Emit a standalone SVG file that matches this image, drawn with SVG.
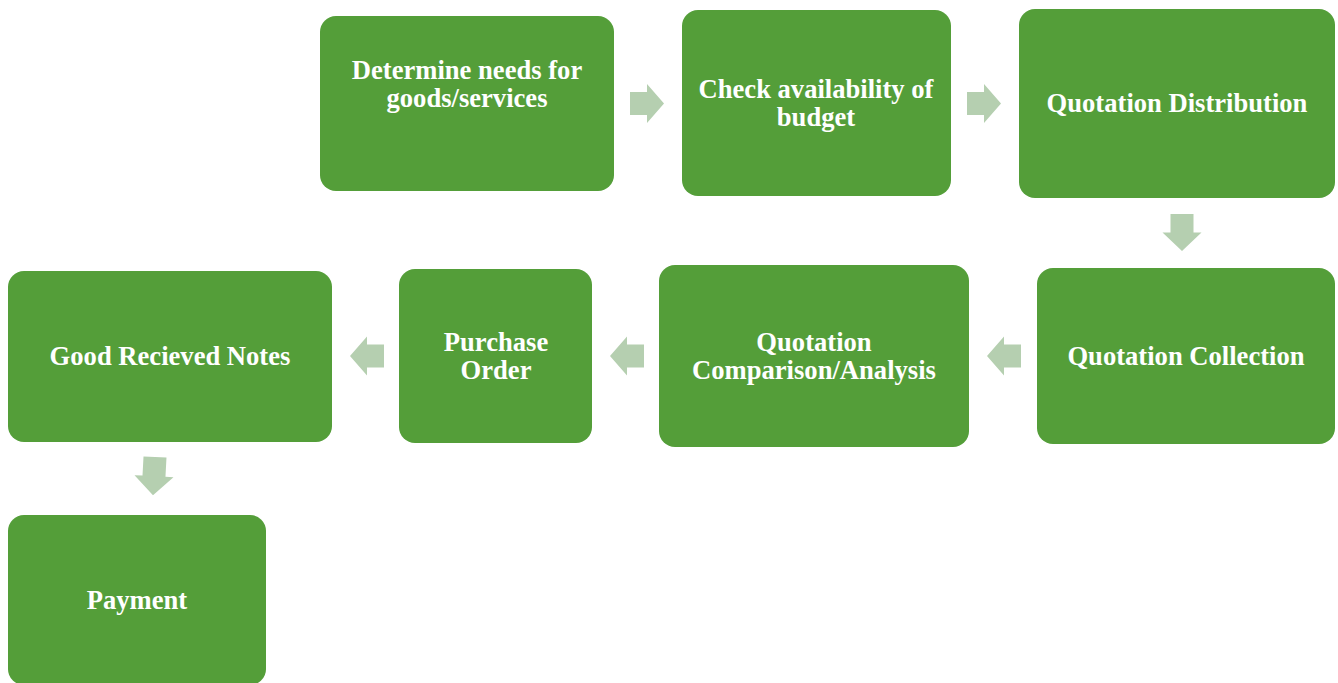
<svg xmlns="http://www.w3.org/2000/svg" width="1338" height="683" viewBox="0 0 1338 683">
<style>
.box{fill:#549E39;}
.t{font-family:"Liberation Serif","Times New Roman",serif;font-weight:bold;font-size:26.6px;fill:#ffffff;text-anchor:middle;}
.arr{fill:#B5CFB0;}
</style>
<defs>
<path id="ar" d="M0,-11.5 H17 V-19.5 L34,0 L17,19.5 V11.5 H0 Z"/>
</defs>
<rect width="1338" height="683" fill="#ffffff"/>
<g id="connectors">
<use href="#ar" class="arr" transform="translate(630,103.5)"/>
<use href="#ar" class="arr" transform="translate(967,103.5)"/>
<use href="#ar" class="arr" transform="translate(1182,214) rotate(90) scale(1.09,1)"/>
<use href="#ar" class="arr" transform="translate(1021,356) rotate(180)"/>
<use href="#ar" class="arr" transform="translate(644,356) rotate(180)"/>
<use href="#ar" class="arr" transform="translate(384,356) rotate(180)"/>
<use href="#ar" class="arr" transform="translate(155,457) rotate(93) scale(1.13,1)"/>
</g>
<g id="n1"><rect class="box" x="320" y="16" width="294" height="175" rx="16"/><text class="t" x="467" y="79">Determine needs for</text><text class="t" x="467" y="107">goods/services</text></g>
<g id="n2"><rect class="box" x="682" y="10" width="269" height="186" rx="16"/><text class="t" x="816" y="98">Check availability of</text><text class="t" x="816" y="126">budget</text></g>
<g id="n3"><rect class="box" x="1019" y="9" width="316" height="189" rx="16"/><text class="t" x="1177" y="112">Quotation Distribution</text></g>
<g id="n4"><rect class="box" x="1037" y="268" width="298" height="176" rx="16"/><text class="t" x="1186" y="365">Quotation Collection</text></g>
<g id="n5"><rect class="box" x="659" y="265" width="310" height="182" rx="16"/><text class="t" x="814" y="351">Quotation</text><text class="t" x="814" y="379">Comparison/Analysis</text></g>
<g id="n6"><rect class="box" x="399" y="269" width="193" height="174" rx="16"/><text class="t" x="496" y="351">Purchase</text><text class="t" x="496" y="379">Order</text></g>
<g id="n7"><rect class="box" x="8" y="271" width="324" height="171" rx="16"/><text class="t" x="170" y="365">Good Recieved Notes</text></g>
<g id="n8"><rect class="box" x="8" y="515" width="258" height="170" rx="16"/><text class="t" x="137" y="609">Payment</text></g>
</svg>
